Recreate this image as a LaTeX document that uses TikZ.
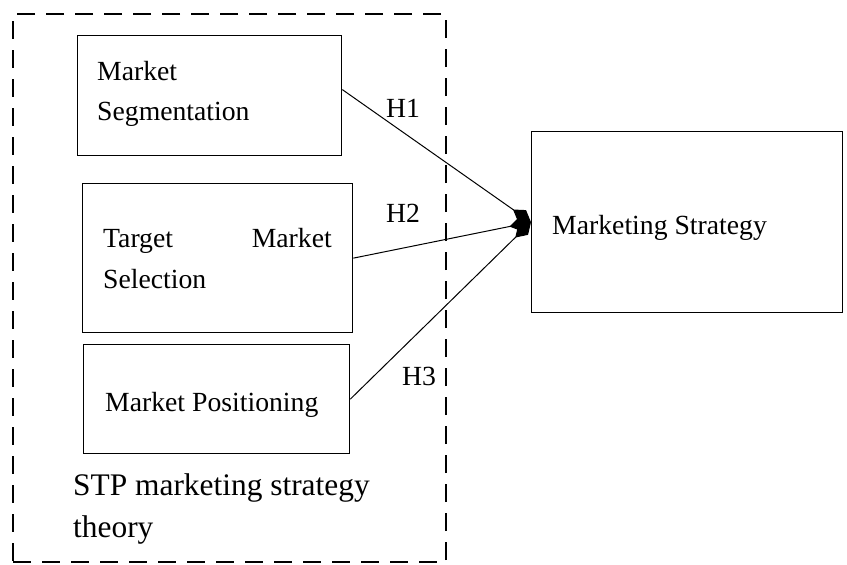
\documentclass[tikz,border=0pt]{standalone}
\usepackage{fontspec}
\setmainfont{Liberation Serif}
\usetikzlibrary{arrows.meta,calc}
\begin{document}
\begin{tikzpicture}[x=1pt,y=-1pt,
  box/.style={draw,line width=1.3pt,inner sep=0pt,anchor=north west},
  frame/.style={draw,line width=2.2pt,dash pattern=on 18pt off 11pt,inner sep=0pt,anchor=north west},
  txt/.style={anchor=base west,inner sep=0pt,font=\fontsize{27.7}{40}\selectfont},
  bigtxt/.style={anchor=base west,inner sep=0pt,font=\fontsize{31.4}{42}\selectfont},
  conn/.style={line width=1pt,-{Diamond[length=22pt,width=14pt]}}]
\useasboundingbox (0,0) rectangle (847,565);

% dashed STP frame
\node[frame,minimum width=433pt,minimum height=548pt] (stp) at (12,13) {};

% the three STP boxes and the outcome box
\node[box,minimum width=264pt,minimum height=120pt] (seg) at (77,35) {};
\node[box,minimum width=270pt,minimum height=149pt] (tgt) at (82,183) {};
\node[box,minimum width=266pt,minimum height=109pt] (pos) at (83,344) {};
\node[box,minimum width=311pt,minimum height=181pt] (ms) at (531,131) {};

% box texts
\node[txt] (seg1) at (97,80) {Market};
\node[txt] (seg2) at (97,120) {Segmentation};
\node[txt] (tgt1) at (103,247) {Target};
\node[txt,anchor=base east] (tgt2) at (332,247) {Market};
\node[txt] (tgt3) at (103,288) {Selection};
\node[txt] (pos1) at (105,411) {Market Positioning};
\node[txt] (ms1) at (552,234) {Marketing Strategy};
\node[bigtxt] (stp1) at (73,495) {STP marketing strategy};
\node[bigtxt] (stp2) at (73,537) {theory};

% hypothesis paths
\coordinate (s1) at ($(seg.north east)!0.45!(seg.south east)$);
\draw[conn] (s1) -- (ms.west);
\draw[conn] (tgt.east) -- (ms.west);
\draw[conn] (pos.east) -- (ms.west);

\node[txt] (h1) at (386,117) {H1};
\node[txt] (h2) at (386,222) {H2};
\node[txt] (h3) at (402,385) {H3};
\end{tikzpicture}
\end{document}
